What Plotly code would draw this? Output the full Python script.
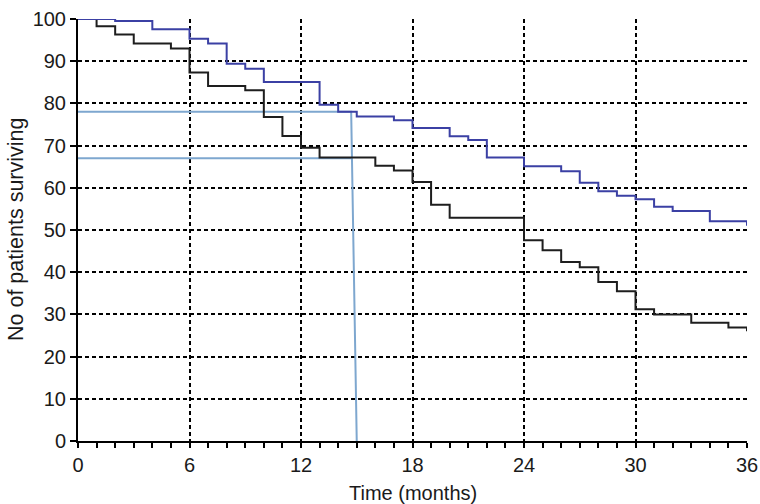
import plotly.graph_objects as go

# Curve 1 (black) – months and number surviving
black_t = [0, 1, 2, 3, 5, 6, 7, 9, 10, 11, 12, 13, 16, 17, 18, 19, 20, 24, 25, 26, 27, 28, 29, 30, 31, 33, 35, 36]
black_v = [100, 98.3, 96.3, 94.2, 93, 87.3, 84.1, 83.1, 76.8, 72.3, 69.5, 67.2, 65.2, 64.1, 61.4, 56, 52.9, 47.6,
           45.2, 42.4, 41.2, 37.7, 35.5, 31.2, 30, 28, 26.9, 26]

# Curve 2 (dark blue)
blue_t = [0, 2, 4, 6, 7, 8, 9, 10, 13, 14, 15, 17, 18, 20, 21, 22, 24, 26, 27, 28, 29, 30, 31, 32, 34, 36]
blue_v = [100, 99.5, 97.6, 95.3, 94.2, 89.4, 88.2, 85.1, 79.7, 78, 76.9, 76, 74.2, 72.2, 71.3, 67.2, 65.1,
          63.9, 61.2, 59.2, 58.1, 57.3, 55.5, 54.5, 52.1, 51]

# Light-blue reference lines (median read-off)
ref_hi_x = [0, 14.7, 15.0]
ref_hi_y = [78, 78, 0]
ref_lo_x = [0, 14.7]
ref_lo_y = [67, 67]

x_ticks = [0, 6, 12, 18, 24, 30, 36]
y_ticks = [0, 10, 20, 30, 40, 50, 60, 70, 80, 90, 100]

FONT = "Liberation Sans, Arial, Helvetica, sans-serif"
LIGHT = "#7ea7cf"
TXT = "#1a1a1a"

fig = go.Figure()
fig.add_trace(go.Scatter(x=ref_hi_x, y=ref_hi_y, mode="lines",
                         line=dict(color=LIGHT, width=2), hoverinfo="skip"))
fig.add_trace(go.Scatter(x=ref_lo_x, y=ref_lo_y, mode="lines",
                         line=dict(color=LIGHT, width=2), hoverinfo="skip"))
fig.add_trace(go.Scatter(x=black_t, y=black_v, mode="lines",
                         line=dict(color="#1e1e1e", width=2, shape="hv")))
fig.add_trace(go.Scatter(x=blue_t, y=blue_v, mode="lines",
                         line=dict(color="#3b40a4", width=2, shape="hv")))

fig.update_layout(
    width=760, height=504,
    margin=dict(l=78, r=13, t=19, b=63, autoexpand=False),
    paper_bgcolor="white", plot_bgcolor="white",
    showlegend=False,
    font=dict(family=FONT, size=20, color=TXT),
    annotations=[
        dict(text="Time (months)", xref="paper", yref="paper", x=0.5, y=0,
             xanchor="center", yanchor="middle", yshift=-52, showarrow=False,
             font=dict(size=20, color=TXT)),
        dict(text="No of patients surviving", xref="paper", yref="paper", x=0, y=0.5,
             xanchor="center", yanchor="middle", xshift=-62, textangle=-90, showarrow=False,
             font=dict(size=21.5, color=TXT)),
    ],
)
fig.update_xaxes(
    range=[0, 36], tickvals=x_ticks, ticktext=[str(v) for v in x_ticks],
    automargin=False,
    showline=True, linecolor="black", linewidth=2,
    ticks="outside", ticklen=5, tickwidth=1.5, tickcolor="black",
    minor=dict(dtick=1, ticks="outside", ticklen=5, tickwidth=1.5, tickcolor="black", showgrid=False),
    showgrid=True, gridcolor="black", gridwidth=1.5, griddash="4px,3px",
    zeroline=False,
    tickfont=dict(size=20),
)
fig.update_yaxes(
    range=[0, 100], tickvals=y_ticks, ticktext=[str(v) for v in y_ticks],
    automargin=False,
    showline=True, linecolor="black", linewidth=2,
    ticks="outside", ticklen=6, tickwidth=1.5, tickcolor="black",
    showgrid=True, gridcolor="black", gridwidth=1.5, griddash="4px,3px",
    zeroline=False,
    tickfont=dict(size=20),
)

fig.write_html("out.html", config={"displayModeBar": False},
               post_script="document.body.style.margin='0';document.body.style.overflow='hidden';")
